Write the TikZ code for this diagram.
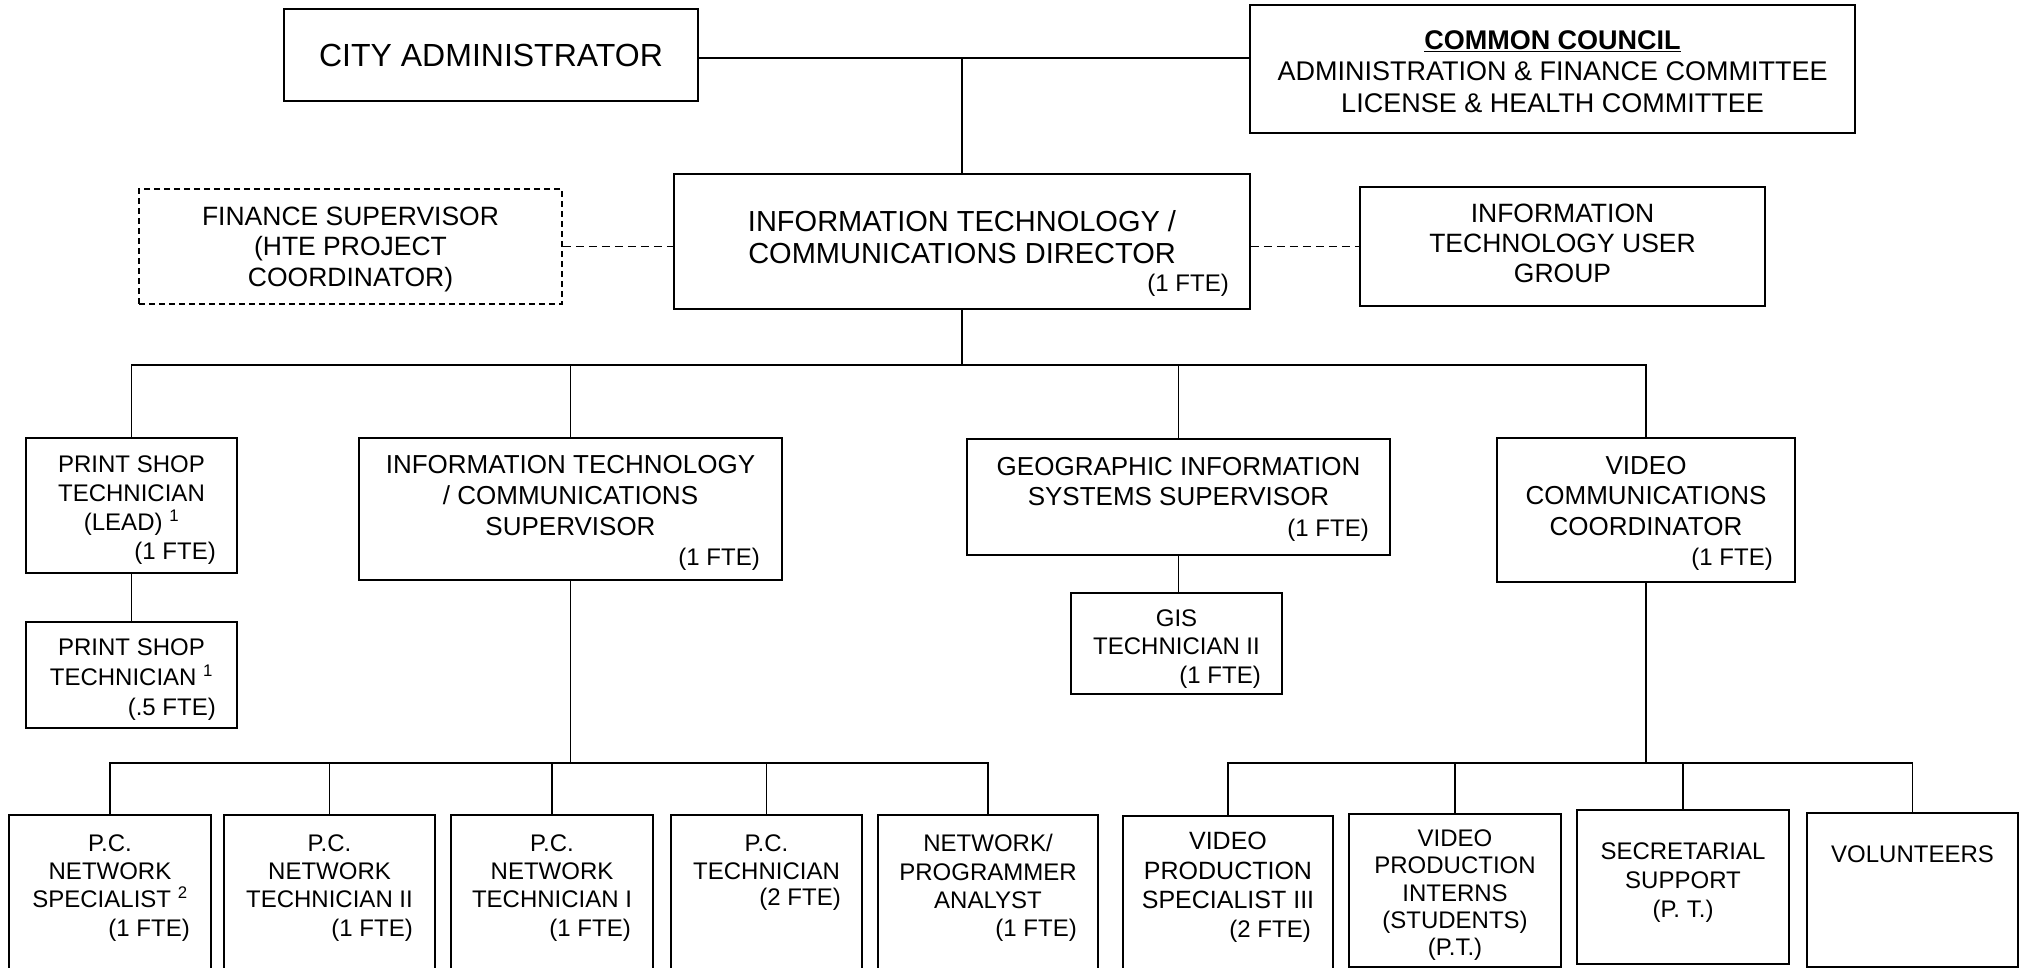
\documentclass[tikz,border=0pt]{standalone}
\usepackage{fontspec}
\setmainfont{Liberation Sans}
\begin{document}
\begin{tikzpicture}[x=1pt,y=-1pt,
  box/.style={draw, rectangle, line width=1.6pt, inner sep=0pt},
  dbox/.style={box, dash pattern=on 6pt off 4pt},
  conn/.style={line width=1.4pt},
  dconn/.style={conn, dash pattern=on 8pt off 5pt},
  txt/.style={inner sep=0pt, align=center, anchor=north},
  fte/.style={inner sep=0pt, anchor=base east, font=\fontsize{24}{28}\selectfont}]
\useasboundingbox (0,0) rectangle (2020,968);
\clip (0,0) rectangle (2020,968);

% top level
\node[box, minimum width=414pt, minimum height=92pt, font=\fontsize{32}{38}\selectfont] (ca) at (491,55) {CITY ADMINISTRATOR};
\node[box, minimum width=605pt, minimum height=128pt] (cc) at (1552.5,69) {};
\node[txt, font=\fontsize{27}{31.5}\selectfont] (cc-t) at (1552.5,30.3) {\underline{\textbf{COMMON COUNCIL}}\\ADMINISTRATION \& FINANCE COMMITTEE\\LICENSE \& HEALTH COMMITTEE};

\node[box, minimum width=576pt, minimum height=135pt] (dir) at (962,241.5) {};
\node[txt, font=\fontsize{29}{32}\selectfont] (dir-t) at (962,210.6) {INFORMATION TECHNOLOGY /\\COMMUNICATIONS DIRECTOR};
\node[fte] (dir-f) at (1229,291.6) {(1 FTE)};

\node[dbox, minimum width=423pt, minimum height=115pt] (fin) at (350.5,246.5) {};
\node[txt, font=\fontsize{26.5}{30.5}\selectfont] (fin-t) at (350.5,206.5) {FINANCE SUPERVISOR\\(HTE PROJECT\\COORDINATOR)};

\node[box, minimum width=405pt, minimum height=119pt] (itug) at (1562.5,246.5) {};
\node[txt, font=\fontsize{26.5}{30}\selectfont] (itug-t) at (1562.5,203.5) {INFORMATION\\TECHNOLOGY USER\\GROUP};

% second level
\node[box, minimum width=211pt, minimum height=135pt] (ps1) at (131.5,505.5) {};
\node[txt, font=\fontsize{24}{29}\selectfont] (ps1-t) at (131.5,455.4) {PRINT SHOP\\TECHNICIAN\\(LEAD) \textsuperscript{1}};
\node[fte] (ps1-f) at (216,559.6) {(1 FTE)};

\node[box, minimum width=211pt, minimum height=106pt] (ps2) at (131.5,675) {};
\node[txt, font=\fontsize{24}{30}\selectfont] (ps2-t) at (131.5,638.4) {PRINT SHOP\\TECHNICIAN \textsuperscript{1}};
\node[fte] (ps2-f) at (216,715.6) {(.5 FTE)};

\node[box, minimum width=423pt, minimum height=142pt] (its) at (570.5,509) {};
\node[txt, font=\fontsize{26}{31}\selectfont] (its-t) at (570.5,454.7) {INFORMATION TECHNOLOGY\\/ COMMUNICATIONS\\SUPERVISOR};
\node[fte] (its-f) at (760,565.6) {(1 FTE)};

\node[box, minimum width=423pt, minimum height=116pt] (gis) at (1178.5,497) {};
\node[txt, font=\fontsize{26}{30}\selectfont] (gis-t) at (1178.5,456.7) {GEOGRAPHIC INFORMATION\\SYSTEMS SUPERVISOR};
\node[fte] (gis-f) at (1369,536.6) {(1 FTE)};

\node[box, minimum width=211pt, minimum height=101pt] (gist) at (1176.5,643.5) {};
\node[txt, font=\fontsize{24}{28.5}\selectfont] (gist-t) at (1176.5,609.4) {GIS\\TECHNICIAN II};
\node[fte] (gist-f) at (1261,683.6) {(1 FTE)};

\node[box, minimum width=298pt, minimum height=144pt] (vc) at (1646,510) {};
\node[txt, font=\fontsize{26}{30.5}\selectfont] (vc-t) at (1646,455.7) {VIDEO\\COMMUNICATIONS\\COORDINATOR};
\node[fte] (vc-f) at (1773,565.6) {(1 FTE)};

% bottom level
\node[box, minimum width=202pt, minimum height=175pt] (b1) at (110,902.5) {};
\node[txt, font=\fontsize{24}{28.3}\selectfont] (b1-t) at (110,834.4) {P.C.\\NETWORK\\SPECIALIST \textsuperscript{2}};
\node[fte] (b1-f) at (190,936.6) {(1 FTE)};

\node[box, minimum width=211pt, minimum height=175pt] (b2) at (329.5,902.5) {};
\node[txt, font=\fontsize{24}{28.3}\selectfont] (b2-t) at (329.5,834.4) {P.C.\\NETWORK\\TECHNICIAN II};
\node[fte] (b2-f) at (413,936.6) {(1 FTE)};

\node[box, minimum width=202pt, minimum height=175pt] (b3) at (552,902.5) {};
\node[txt, font=\fontsize{24}{28.3}\selectfont] (b3-t) at (552,834.4) {P.C.\\NETWORK\\TECHNICIAN I};
\node[fte] (b3-f) at (631,936.6) {(1 FTE)};

\node[box, minimum width=191pt, minimum height=175pt] (b4) at (766.5,902.5) {};
\node[txt, font=\fontsize{24}{28.3}\selectfont] (b4-t) at (766.5,834.4) {P.C.\\TECHNICIAN};
\node[fte] (b4-f) at (841,905.6) {(2 FTE)};

\node[box, minimum width=220pt, minimum height=175pt] (b5) at (988,902.5) {};
\node[txt, font=\fontsize{24}{28.3}\selectfont] (b5-t) at (988,834.4) {NETWORK/\\PROGRAMMER\\ANALYST};
\node[fte] (b5-f) at (1077,936.6) {(1 FTE)};

\node[box, minimum width=210pt, minimum height=174pt] (b6) at (1228,903) {};
\node[txt, font=\fontsize{25}{29.5}\selectfont] (b6-t) at (1228,832) {VIDEO\\PRODUCTION\\SPECIALIST III};
\node[fte] (b6-f) at (1311,937.6) {(2 FTE)};

\node[box, minimum width=212pt, minimum height=153pt] (b7) at (1455,890.5) {};
\node[txt, font=\fontsize{24}{27.4}\selectfont] (b7-t) at (1455,829.4) {VIDEO\\PRODUCTION\\INTERNS\\(STUDENTS)\\(P.T.)};

\node[box, minimum width=212pt, minimum height=154pt] (b8) at (1683,887) {};
\node[txt, font=\fontsize{24}{29}\selectfont] (b8-t) at (1683,842.4) {SECRETARIAL\\SUPPORT\\(P. T.)};

\node[box, minimum width=211pt, minimum height=154pt] (b9) at (1912.5,890) {};
\node[txt, font=\fontsize{24}{29}\selectfont] (b9-t) at (1912.5,845.4) {VOLUNTEERS};

% connectors
\coordinate (busA) at (962,365);
\coordinate (busB) at (570.5,763);
\coordinate (busC) at (1646,763);
\coordinate (top) at (962,58);

\draw[conn] (ca.east |- top) -- (cc.west |- top);
\draw[conn] (dir.north) -- (top);
\draw[dconn] (fin.east) -- (fin.east -| dir.west);
\draw[dconn] (dir.east |- itug.west) -- (itug.west);

\draw[conn] (dir.south) -- (busA);
\draw[conn] (ps1.north) -- (ps1.north |- busA) -- (vc.north |- busA) -- (vc.north);
\draw[conn] (its.north) -- (its.north |- busA);
\draw[conn] (gis.north) -- (gis.north |- busA);
\draw[conn] (ps1.south) -- (ps2.north);
\draw[conn] (gis.south) -- (gis.south |- gist.north);

\draw[conn] (its.south) -- (busB);
\draw[conn] (b1.north) -- (b1.north |- busB) -- (b5.north |- busB) -- (b5.north);
\draw[conn] (b2.north) -- (b2.north |- busB);
\draw[conn] (b3.north) -- (b3.north |- busB);
\draw[conn] (b4.north) -- (b4.north |- busB);

\draw[conn] (vc.south) -- (busC);
\draw[conn] (b6.north) -- (b6.north |- busC) -- (b9.north |- busC) -- (b9.north);
\draw[conn] (b7.north) -- (b7.north |- busC);
\draw[conn] (b8.north) -- (b8.north |- busC);
\end{tikzpicture}
\end{document}
